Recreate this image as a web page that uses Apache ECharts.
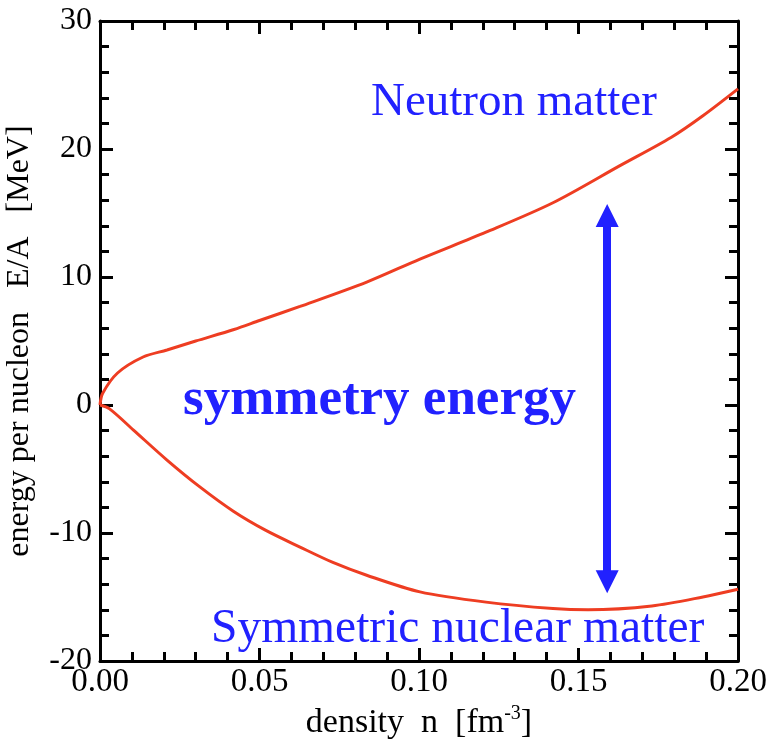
<!DOCTYPE html>
<html>
<head>
<meta charset="utf-8">
<script src="https://cdn.jsdelivr.net/npm/echarts@6/dist/echarts.min.js"></script>
<style>html,body{margin:0;padding:0;background:#fff;}#c{width:768px;height:743px;}</style>
</head>
<body>
<div id="c"></div>
<script>
// Neutron matter E/A vs density
var neutronN = [0, 0.0008, 0.0055, 0.0135, 0.021, 0.030, 0.042, 0.050, 0.0627, 0.0836, 0.1003, 0.121, 0.142, 0.163, 0.179, 0.189, 0.200];
var neutronE = [0, 0.9, 2.5, 3.75, 4.3, 5.0, 5.9, 6.6, 7.7, 9.6, 11.4, 13.5, 15.8, 18.7, 20.9, 22.6, 24.7];
// Symmetric nuclear matter E/A vs density
var symN = [0, 0.003, 0.0105, 0.021, 0.0313, 0.0418, 0.052, 0.0627, 0.073, 0.0836, 0.1003, 0.121, 0.142, 0.153, 0.173, 0.189, 0.200];
var symE = [0, -0.3, -1.96, -4.3, -6.4, -8.3, -9.8, -11.1, -12.3, -13.3, -14.6, -15.4, -15.9, -16.0, -15.7, -15.0, -14.4];
// axes
var xTicks = [0.00, 0.05, 0.10, 0.15, 0.20];
var yTicks = [-20, -10, 0, 10, 20, 30];
// symmetry-energy arrow (density, energy at each end)
var arrowN = 0.159;
var arrowE = [14.8, -13.8];

function zip(a, b) { return a.map(function (v, i) { return [v, b[i]]; }); }

var FONT = '"Liberation Serif", "Times New Roman", serif';
var RED = '#ee3d22';
var BLUE = '#2121ff';

function xAx(pos, show) {
  return {
    type: 'value', position: pos, min: xTicks[0], max: xTicks[xTicks.length - 1], interval: 0.05,
    axisLine: { show: true, onZero: false, lineStyle: { color: '#000', width: 3 } },
    axisTick: { show: true, inside: true, length: 13, lineStyle: { color: '#000', width: 3 } },
    minorTick: { show: true, splitNumber: 5, length: 9, lineStyle: { color: '#000', width: 3 } },
    splitLine: { show: false },
    axisLabel: { show: show, color: '#000', fontFamily: FONT, fontSize: 33, margin: 5,
      formatter: function (v) { return v.toFixed(2); } },
    name: show ? 'density  n  [fm{sup|-3}]' : '', nameLocation: 'middle', nameGap: 41,
    nameTextStyle: { color: '#000', fontFamily: FONT, fontSize: 34,
      rich: { sup: { fontSize: 20, fontFamily: FONT, color: '#000', verticalAlign: 'top', padding: [0, 0, 18, 0] } } }
  };
}
function yAx(pos, show) {
  return {
    type: 'value', position: pos, min: yTicks[0], max: yTicks[yTicks.length - 1], interval: 10,
    axisLine: { show: true, onZero: false, lineStyle: { color: '#000', width: 3 } },
    axisTick: { show: true, inside: true, length: 13, lineStyle: { color: '#000', width: 3 } },
    minorTick: { show: true, splitNumber: 5, length: 9, lineStyle: { color: '#000', width: 3 } },
    splitLine: { show: false },
    axisLabel: { show: show, color: '#000', fontFamily: FONT, fontSize: 32, margin: 8 },
    name: show ? 'energy per nucleon   E/A   [MeV]' : '', nameLocation: 'middle', nameGap: 64,
    nameTextStyle: { color: '#000', fontFamily: FONT, fontSize: 32 }
  };
}

var chart = echarts.init(document.getElementById('c'), null, { renderer: 'canvas' });
chart.setOption({
  backgroundColor: '#fff',
  animation: false,
  grid: { left: 100, right: 30, top: 21, bottom: 82, containLabel: false, outerBoundsMode: 'none' },
  xAxis: [xAx('bottom', true), xAx('top', false)],
  yAxis: [yAx('left', true), yAx('right', false)],
  series: [
    {
      type: 'line', name: 'Neutron matter', data: zip(neutronN, neutronE), showSymbol: false,
      smooth: 0.3, lineStyle: { color: RED, width: 3 }, z: 3
    },
    {
      type: 'line', name: 'Symmetric nuclear matter', data: zip(symN, symE), showSymbol: false,
      smooth: 0.3, lineStyle: { color: RED, width: 3 }, z: 3,
      markLine: {
        silent: true, animation: false,
        symbol: ['triangle', 'triangle'], symbolSize: [23, 23],
        label: { show: false },
        lineStyle: { color: BLUE, width: 8, type: 'solid' },
        data: [[{ coord: [arrowN, arrowE[0]] }, { coord: [arrowN, arrowE[1]] }]]
      }
    }
  ],
  graphic: [
    { type: 'text', left: 371, top: 79, style: { text: 'Neutron matter', fill: BLUE, font: '47px ' + FONT } },
    { type: 'text', left: 183, top: 374, style: { text: 'symmetry energy', fill: BLUE, font: 'bold 53px ' + FONT } },
    { type: 'text', left: 211, top: 606, style: { text: 'Symmetric nuclear matter', fill: BLUE, font: '47.5px ' + FONT } }
  ]
});
</script>
</body>
</html>
